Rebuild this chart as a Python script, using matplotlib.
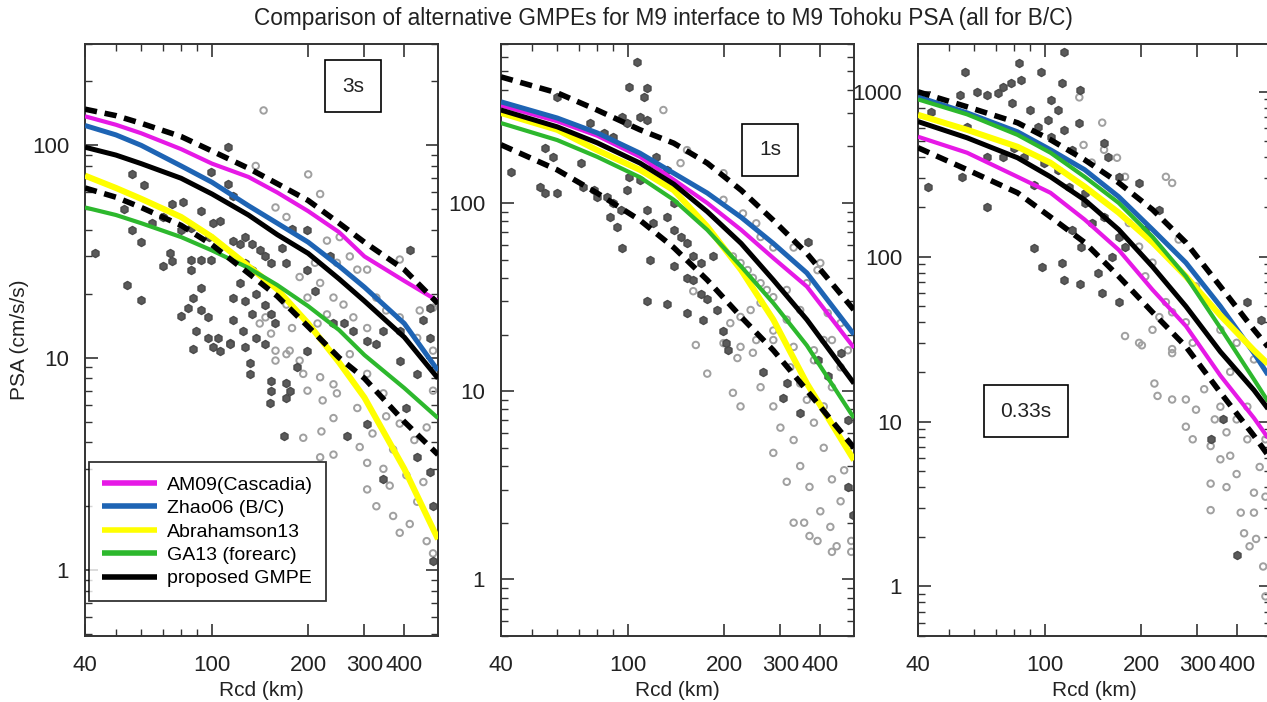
import matplotlib
matplotlib.use("Agg")
from matplotlib import pyplot as plt
from matplotlib.ticker import FixedLocator, FixedFormatter, LogLocator, FuncFormatter, NullFormatter

plt.rcParams['font.family'] = ['Liberation Sans', 'DejaVu Sans']

# ---- model curves (Rcd km, PSA cm/s/s) ----
x_3s = [40, 50, 60, 80, 100, 130, 160, 200, 250, 300, 400, 510]
am09_3s = [137, 125, 114, 96, 82, 71, 60, 49, 39, 30, 23, 18.5]
zhao_3s = [124, 112, 100, 80, 67, 52, 43, 35, 27, 21.5, 14.5, 8.7]
abr_3s = [72, 63, 56, 46, 37, 27, 21, 14.5, 9.5, 6.5, 3.0, 1.4]
ga13_3s = [51, 47, 43, 37, 32, 26.5, 22, 17.5, 13.5, 10.3, 7.2, 5.2]
prop_3s = [98, 90, 82, 70, 59, 47, 38, 31, 23.5, 18.5, 12.5, 8.0]
up_3s = [148, 138, 127, 110, 94, 78, 66, 55, 43, 35, 26, 18]
lo_3s = [63, 57, 51, 42, 34, 25, 19.5, 14, 10, 8.0, 5.0, 3.5]

x_1s = [40, 60, 80, 109, 139, 177, 226, 285, 363, 510]
am09_1s = [330, 272, 228, 176, 133, 100, 72, 51, 36, 17]
zhao_1s = [345, 283, 236, 184, 144, 113, 84, 61, 42.5, 20]
abr_1s = [301, 245, 191, 150, 117, 75, 44, 24, 11, 4.3]
ga13_1s = [266, 216, 176, 137, 104, 72, 46, 29.4, 17.5, 7.2]
prop_1s = [312, 254, 209, 163, 126, 90, 61, 39, 24, 11]
up_1s = [468, 385, 312, 245, 208, 163, 117, 81, 54, 27]
lo_1s = [204, 150, 113, 81, 58, 39, 24.8, 16.5, 10.1, 5.0]

x_033s = [40, 57, 82, 104, 133, 170, 217, 276, 354, 451, 510]
am09_033s = [534, 427, 305, 244, 168, 110, 63, 38, 19, 10.5, 7.5]
zhao_033s = [932, 745, 572, 445, 337, 231, 146, 92, 50, 26, 18]
abr_033s = [725, 588, 464, 371, 266, 185, 122, 76, 44, 27, 21.5]
ga13_033s = [900, 730, 548, 427, 305, 212, 132, 76, 37, 18, 12.4]
prop_033s = [660, 526, 398, 305, 221, 146, 87, 50, 26.5, 15.5, 11.3]
up_033s = [1000, 811, 649, 512, 387, 281, 193, 122, 66, 36, 27]
lo_033s = [458, 337, 244, 174, 122, 76, 46, 28.5, 15, 8.2, 5.9]

# ---- observations: dark filled and light open symbols ----
dark_x_3s = [43, 56, 61, 53, 56, 60, 54, 60, 65, 70, 75, 81, 70, 75, 74, 80, 86, 92, 99, 112,
             112, 116, 101, 106, 98, 86, 92, 99, 86, 92, 87, 84, 80, 92, 97, 89, 97, 104, 114, 106,
             116, 122, 127, 133, 141, 147, 153, 127, 133, 122, 116, 127, 137, 147, 153, 158, 133, 116, 125, 137,
             147, 178, 199, 166, 171, 199, 210, 234, 240, 258, 277, 306, 327, 416, 481, 459, 481, 387, 344,
             87, 101, 114, 127, 131, 131, 153, 153, 171, 175, 185, 171, 152, 168, 199, 264, 306, 344, 406,
             439, 492, 492, 481, 439, 387]
dark_y_3s = [31.3, 73, 65, 50, 40, 35, 22, 18.8, 43, 46, 53, 54, 27, 28.7, 31, 40, 41, 49, 75, 98,
             66, 58, 43, 44, 37, 29, 29, 29, 26, 21.4, 19.2, 17.2, 15.8, 16.7, 15.5, 13.4, 12.4, 12.4, 11.8, 10.8,
             35.6, 34.5, 37, 34.5, 32, 30, 28, 28, 26, 22.5, 19.2, 18.6, 20, 17.8, 16.1, 14.5, 16.1, 15, 13.4, 12.4,
             11.6, 40.6, 40, 33, 28, 26, 20.7, 30, 14.5, 14.5, 13.4, 12, 11.6, 32, 17.2, 15, 12.4, 13.4, 13.4,
             11, 11.2, 11.6, 11.2, 9.4, 8.4, 7.8, 7, 7.6, 7, 9, 6.5, 6.1, 4.3, 10.8, 4.3, 4.9, 2.7, 5.8,
             3.4, 2.0, 1.1, 2.9, 8.4, 9.7]
open_x_3s = [145, 137, 200, 218, 158, 171, 251, 229, 270, 246, 285, 306, 387, 210, 188, 218, 240, 199, 171, 147,
             141, 153, 178, 214, 229, 258, 327, 351, 387, 447, 492, 439, 492, 277, 306, 175, 158,
             158, 171, 188, 193, 218, 199, 222, 240, 246, 193, 218, 240, 220, 240, 285, 290, 306, 306, 327,
             344, 360, 369, 387, 416, 439, 459, 470, 492, 270, 306, 344, 387, 430, 470, 492, 351, 318, 406, 369]
open_y_3s = [146, 80, 73, 59, 51, 46, 37, 35.6, 30, 28, 26, 26, 29, 28, 24, 22.5, 19.2, 19.2, 17.8, 15.5,
             14.5, 13, 13.8, 14.5, 16, 17.8, 19.2, 16.7, 15.5, 16.7, 17.2, 12.4, 10.8, 15.5, 13.8, 10.8, 10.8,
             9.7, 10.4, 9.7, 8.4, 8.1, 7, 6.3, 7.5, 6.8, 4.2, 3.4, 3.5, 4.5, 5.2, 5.8, 3.8, 3.2, 2.4, 2.0,
             3.0, 2.5, 1.8, 1.5, 1.65, 2.1, 2.6, 1.37, 1.2, 10.4, 8.4, 6.8, 4.9, 4.1, 4.7, 7, 5.3, 4.4, 2.8, 3.7]

dark_x_1s = [107, 101, 115, 112, 43, 53, 55, 60, 55, 58, 60, 71, 76, 84, 90, 96, 99, 109, 115, 72,
             78, 80, 86, 90, 95, 88, 92, 99, 101, 109, 120, 122, 132, 115, 120, 132, 139, 139, 146, 153,
             96, 117, 139, 153, 160, 169, 177, 115, 132, 153, 172, 190, 199, 205, 169, 160, 185, 366,
             202, 264, 314, 306, 346, 488, 506, 488, 463, 422, 392]
dark_y_1s = [563, 413, 409, 366, 146, 122, 113, 113, 196, 176, 366, 163, 266, 236, 224, 286, 266, 286, 276, 122,
             117, 108, 108, 100, 92, 84, 75, 117, 137, 133, 163, 176, 150, 92, 78, 84, 100, 72, 66, 61,
             58, 50, 46, 40, 39, 33, 31, 30, 29, 26, 24, 27, 21, 16.5, 48, 52, 52, 62,
             18, 12.6, 11, 9.2, 7.7, 3.1, 2.2, 7, 16, 12, 14.6]
open_x_1s = [129, 146, 153, 199, 199, 229, 252, 160, 213, 225, 237, 246, 260, 272, 285, 260, 242, 225, 209, 199,
             225, 252, 285, 314, 346, 314, 363, 392, 422, 463, 488, 435, 330, 382, 285, 260, 330, 400,
             163, 177, 220, 213, 225, 246, 260, 285, 300, 285, 330, 314, 346, 370, 400, 330, 356, 370,
             392, 430, 435, 450, 500, 500, 463, 435, 475, 410, 382, 363, 410, 435, 463, 322, 346, 382, 285, 410]
open_y_1s = [312, 163, 191, 104, 144, 88, 78, 34, 52, 48, 44, 40, 37.5, 34.5, 31.6, 29.5, 27, 24.8, 23, 18,
             17.2, 18.7, 21, 24, 27, 34.5, 37.5, 44, 26, 23, 16.5, 18.7, 17.2, 16.5, 58, 66, 58, 48,
             17.6, 12.4, 15, 9.8, 8.3, 16, 10.5, 8.3, 6.4, 4.7, 5.5, 3.3, 4, 3.1, 2.3, 2, 2, 1.7,
             1.6, 1.9, 1.4, 1.5, 1.4, 1.6, 2.6, 3.4, 3.8, 5, 6.8, 9, 8.3, 10.5, 13.4, 13.4, 11, 14.6, 18.7, 18.7]

dark_x_033s = [56, 43, 44, 61, 66, 54, 71, 74, 78, 83, 84, 97, 113, 115, 129, 79, 90, 104, 110, 128,
               95, 102, 104, 115, 57, 66, 55, 66, 74, 80, 86, 92, 99, 110, 119, 133, 121, 133, 140, 153,
               153, 157, 170, 197, 228, 121, 130, 113, 92, 98, 115, 129, 147, 162, 170, 178, 151, 170, 206,
               428, 474, 330, 360, 398]
dark_y_033s = [1320, 265, 757, 1000, 955, 955, 985, 1070, 1130, 1500, 1180, 1310, 1130, 1740, 1030, 857, 780, 894, 780, 650,
               614, 676, 535, 588, 614, 404, 305, 200, 404, 459, 404, 273, 372, 337, 265, 244, 445, 212, 160, 175,
               490, 404, 305, 280, 193, 145, 115, 92, 113, 87, 72, 68, 80, 100, 132, 115, 60, 53, 145,
               53, 41.5, 7.8, 10.3, 1.55]
open_x_033s = [128, 151, 132, 140, 153, 168, 178, 239, 250, 262, 183, 197, 217, 206, 178, 197, 217, 228, 239, 250,
               276, 290, 250, 297, 320, 354, 398,
               201, 220, 225, 250, 250, 276, 276, 290, 297, 330, 354, 330, 330, 370, 398, 380, 410, 420,
               437, 482, 458, 490, 451, 470, 490, 430, 430, 490, 354, 315, 380, 451, 340, 370, 398, 451]
open_y_033s = [925, 650, 476, 372, 445, 398, 305, 305, 280, 127, 160, 115, 92, 76, 33, 30, 36, 43, 53, 46,
               40, 30, 27.5, 66, 53, 36, 30,
               29, 17, 14.3, 26, 13.6, 13.6, 9.3, 7.8, 11.8, 7.1, 5.9, 2.9, 4.2, 4.0, 4.8, 6.2, 2.8, 2.1,
               1.75, 1.32, 1.94, 3.5, 3.7, 5.3, 7.8, 7.8, 12.3, 0.87, 12.3, 15.7, 20, 23.8, 10.3, 8.6, 10.3, 2.8]

x_ticks = [40, 100, 200, 300, 400]
x_tick_labels = ["40", "100", "200", "300", "400"]
x_minor = [50, 60, 70, 80, 90]

names = ["AM09(Cascadia)", "Zhao06 (B/C)", "Abrahamson13", "GA13 (forearc)", "proposed GMPE"]
colors = ["#e619e6", "#1e64b4", "#ffff00", "#2db82d", "#000000"]
widths = [3.0, 3.6, 4.4, 3.0, 3.6]

panels = [
    dict(x=x_3s, curves=[am09_3s, zhao_3s, abr_3s, ga13_3s, prop_3s], up=up_3s, lo=lo_3s,
         dx=dark_x_3s, dy=dark_y_3s, ox=open_x_3s, oy=open_y_3s, ylim=(0.49, 300),
         label="3s", lpos=(0.759, 0.929), left=85),
    dict(x=x_1s, curves=[am09_1s, zhao_1s, abr_1s, ga13_1s, prop_1s], up=up_1s, lo=lo_1s,
         dx=dark_x_1s, dy=dark_y_1s, ox=open_x_1s, oy=open_y_1s, ylim=(0.5, 700),
         label="1s", lpos=(0.762, 0.821), left=501),
    dict(x=x_033s, curves=[am09_033s, zhao_033s, abr_033s, ga13_033s, prop_033s], up=up_033s, lo=lo_033s,
         dx=dark_x_033s, dy=dark_y_033s, ox=open_x_033s, oy=open_y_033s, ylim=(0.5, 1950),
         label="0.33s", lpos=(0.306, 0.380), left=918),
]

W, H = 1267, 702
fig = plt.figure(figsize=(W / 100, H / 100), dpi=100)
fig.text(0.524, 0.974, "Comparison of alternative GMPEs for M9 interface to M9 Tohoku PSA (all for B/C)",
         ha="center", va="center", fontsize=16.3, color="#222222")

for i, p in enumerate(panels):
    ax = fig.add_axes([p["left"] / W, 66 / H, 353 / W, 592 / H])
    ax.set_xscale("log")
    ax.set_yscale("log")
    ax.set_xlim(40, 510)
    ax.set_ylim(*p["ylim"])

    ax.scatter(p["ox"], p["oy"], s=22, facecolors="none", edgecolors="#a0a0a0", linewidths=1.4, zorder=2)
    ax.scatter(p["dx"], p["dy"], s=34, marker="h", color="#5a5a5a", edgecolors="#4a4a4a", zorder=2)

    for c in range(5):
        ax.plot(p["x"], p["curves"][c], color=colors[c], lw=widths[c], label=names[c], zorder=3,
                solid_capstyle="butt")
    ax.plot(p["x"], p["up"], color="black", lw=4, ls=(0, (2.2, 1.4)), zorder=4)
    ax.plot(p["x"], p["lo"], color="black", lw=4, ls=(0, (2.2, 1.4)), zorder=4)

    ax.xaxis.set_major_locator(FixedLocator(x_ticks))
    ax.xaxis.set_major_formatter(FixedFormatter(x_tick_labels))
    ax.xaxis.set_minor_locator(FixedLocator(x_minor))
    ax.xaxis.set_minor_formatter(NullFormatter())
    ax.yaxis.set_major_locator(LogLocator(base=10))
    ax.yaxis.set_minor_locator(LogLocator(base=10, subs=(2, 3, 4, 5, 6, 7, 8, 9)))
    ax.yaxis.set_major_formatter(FuncFormatter(lambda v, pos: "%g" % v))
    ax.yaxis.set_minor_formatter(NullFormatter())
    ax.tick_params(which="both", direction="in", top=True, right=True, labelsize=16,
                   colors="#333333", labelcolor="#222222")
    ax.tick_params(which="major", length=9, width=1.2)
    ax.tick_params(which="minor", length=5, width=1.0)
    ax.tick_params(axis="x", which="major", pad=14)
    ax.tick_params(axis="y", which="major", pad=11.5)
    for s in ax.spines.values():
        s.set_linewidth(1.4)
        s.set_color("#333333")

    ax.set_xlabel("Rcd (km)", fontsize=15, color="#222222", labelpad=3)
    if i == 0:
        ax.set_ylabel("PSA (cm/s/s)", fontsize=15, color="#222222", labelpad=2)
        leg = ax.legend(loc="lower left", bbox_to_anchor=(0.011, 0.059), borderaxespad=0, fontsize=14,
                        frameon=True, fancybox=False, edgecolor="black", handlelength=2.8, borderpad=0.7,
                        labelspacing=0.3, handletextpad=0.5)
        leg.get_frame().set_linewidth(1.3)
        for h in leg.get_lines():
            h.set_linewidth(4)

    ax.text(p["lpos"][0], p["lpos"][1], p["label"], transform=ax.transAxes, ha="center", va="center",
            fontsize=15, color="#222222",
            bbox=dict(boxstyle="square,pad=0.8", facecolor="white", edgecolor="black", linewidth=1.2),
            zorder=6)

fig.savefig("out.png", dpi=100)
